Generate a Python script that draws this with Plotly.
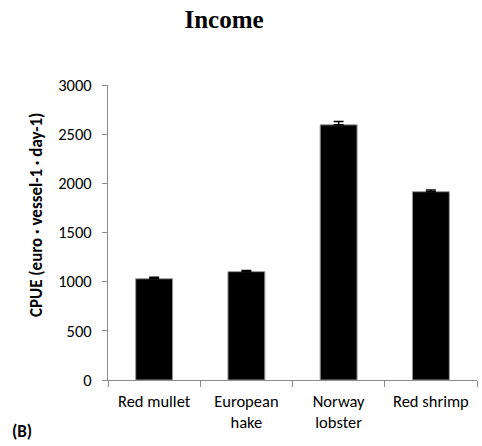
import plotly.graph_objects as go

# CPUE income by species
species = ["Red mullet", "European<br>hake", "Norway<br>lobster", "Red shrimp"]
cpue = [1030, 1102, 2595, 1915]
cpue_err = [14, 12, 35, 18]
y_ticks = [0, 500, 1000, 1500, 2000, 2500, 3000]

font_main = "Carlito, Lato, 'Open Sans', sans-serif"

W, H = 482, 446
L, R, T, B = 108, 5, 85, 66
pw, ph = W - L - R, H - T - B

fig = go.Figure(
    go.Bar(
        x=species,
        y=cpue,
        marker=dict(color="black", line=dict(color="#9a9a9a", width=1)),
        error_y=dict(type="data", array=cpue_err, color="black",
                     thickness=1.5, width=5, symmetric=False,
                     arrayminus=[0, 0, 0, 0]),
    )
)

fig.update_layout(
    width=W,
    height=H,
    margin=dict(l=L, r=R, t=T, b=B),
    plot_bgcolor="white",
    paper_bgcolor="white",
    bargap=0.6,
    showlegend=False,
    font=dict(family=font_main, size=16, color="black"),
    title=dict(text="<b>Income</b>", x=224 / W, xanchor="center",
               y=1 - 19 / H, yanchor="middle",
               font=dict(family="'Liberation Serif', 'Times New Roman', serif",
                         size=25, color="black")),
    annotations=[
        dict(text="<b>(B)</b>", xref="paper", yref="paper",
             x=-(L - 10) / pw, y=-(432 - (T + ph)) / ph,
             xanchor="left", yanchor="middle", showarrow=False,
             font=dict(family=font_main, size=17, color="black")),
        dict(text="<b>CPUE (euro · vessel-1 · day-1)</b>",
             xref="paper", yref="paper", textangle=-90,
             x=-(L - 37) / pw, y=1 - (215 - T) / ph,
             xanchor="center", yanchor="middle", showarrow=False,
             font=dict(family=font_main, size=17, color="black")),
    ],
)

fig.update_xaxes(
    showline=True, linecolor="#8c8c8c", linewidth=1,
    ticks="outside", tickson="boundaries", ticklen=6, tickcolor="#8c8c8c",
    ticklabelstandoff=6,
    showgrid=False, tickfont=dict(size=16.5, color="black"),
)
fig.update_yaxes(
    range=[0, 3000], tickvals=y_ticks,
    showline=True, linecolor="#8c8c8c", linewidth=1,
    ticks="outside", ticklen=5, tickcolor="#8c8c8c",
    ticklabelstandoff=7,
    showgrid=False, zeroline=False, tickfont=dict(size=16.5, color="black"),
)

fig.write_html("out.html")
